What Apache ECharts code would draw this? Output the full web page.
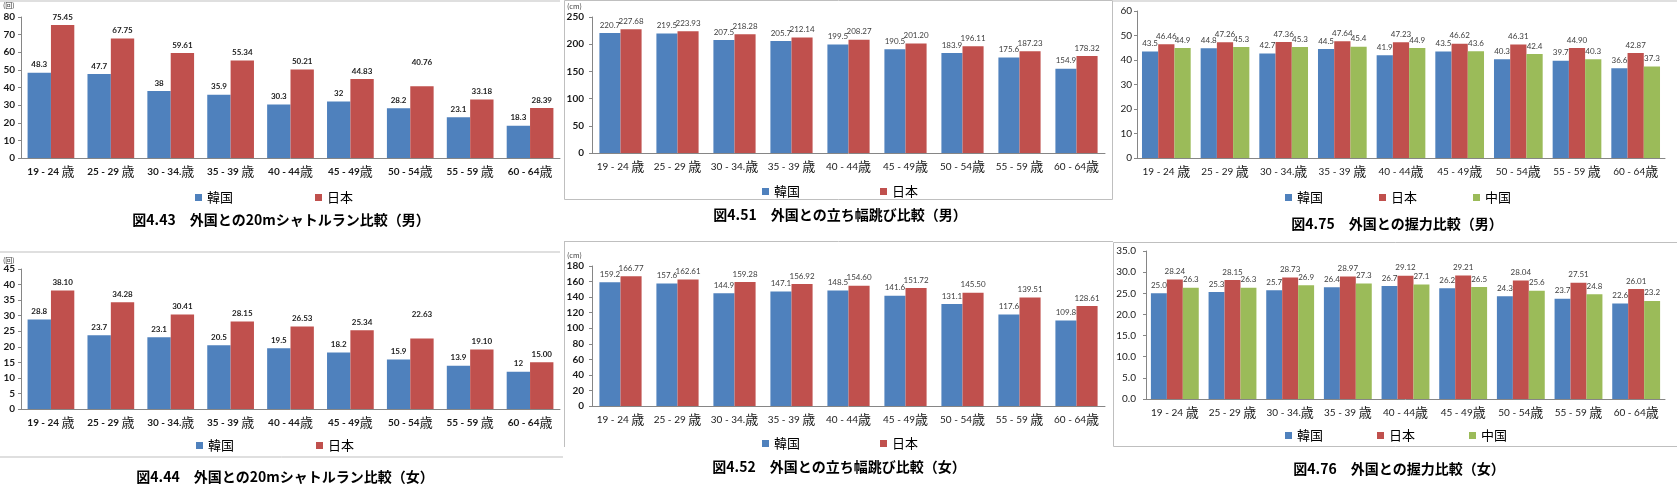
<!DOCTYPE html>
<html>
<head>
<meta charset="utf-8">
<title>外国との体力比較</title>
<script src="https://cdn.jsdelivr.net/npm/echarts@6/dist/echarts.min.js"></script>
<style>
  html, body { margin: 0; padding: 0; background: #fff; }
  #main { width: 1677px; height: 487px; }
</style>
</head>
<body>
<div id="main"></div>
<script>
// 年齢区分
var ageGroups = ['19 - 24 歳', '25 - 29 歳', '30 - 34.歳', '35 - 39 歳', '40 - 44歳', '45 - 49歳', '50 - 54歳', '55 - 59 歳', '60 - 64歳'];

// 20mシャトルラン (回)
var shuttleKorM = [48.3, 47.7, 38, 35.9, 30.3, 32, 28.2, 23.1, 18.3];
var shuttleJpnM = [75.45, 67.75, 59.61, 55.34, 50.21, 44.83, 40.76, 33.18, 28.39];
var shuttleKorF = [28.8, 23.7, 23.1, 20.5, 19.5, 18.2, 15.9, 13.9, 12];
var shuttleJpnF = [38.10, 34.28, 30.41, 28.15, 26.53, 25.34, 22.63, 19.10, 15.00];

// 立ち幅跳び (cm)
var jumpKorM = [220.7, 219.5, 207.5, 205.7, 199.5, 190.5, 183.9, 175.6, 154.9];
var jumpJpnM = [227.68, 223.93, 218.28, 212.14, 208.27, 201.20, 196.11, 187.23, 178.32];
var jumpKorF = [159.2, 157.6, 144.9, 147.1, 148.5, 141.6, 131.1, 117.6, 109.8];
var jumpJpnF = [166.77, 162.61, 159.28, 156.92, 154.60, 151.72, 145.50, 139.51, 128.61];

// 握力 (kg)
var gripKorM = [43.5, 44.8, 42.7, 44.5, 41.9, 43.5, 40.3, 39.7, 36.6];
var gripJpnM = [46.46, 47.26, 47.36, 47.64, 47.23, 46.62, 46.31, 44.90, 42.87];
var gripChnM = [44.9, 45.3, 45.3, 45.4, 44.9, 43.6, 42.4, 40.3, 37.3];
var gripKorF = [25.0, 25.3, 25.7, 26.4, 26.7, 26.2, 24.3, 23.7, 22.6];
var gripJpnF = [28.24, 28.15, 28.73, 28.97, 29.12, 29.21, 28.04, 27.51, 26.01];
var gripChnF = [26.3, 26.3, 26.9, 27.3, 27.1, 26.5, 25.6, 24.8, 23.2];

var FONT = '"Noto Sans CJK JP", sans-serif';
var NUMFONT = 'Lato, "Noto Sans CJK JP", sans-serif';
var BLUE = '#4F81BD', RED = '#C0504D', GREEN = '#9BBB59';
var AXIS = '#868686';

var panels = [
  { grid: {left: 21, top: 17, width: 539, height: 141}, max: 80, step: 10, gap: '22%', bold: true, ymargin: 6,
    series: [['韓国', shuttleKorM, BLUE, null], ['日本', shuttleJpnM, RED, 2]],
    lift: {series: 1, index: 6, px: 16},
    legend: {left: 190, top: 186, itemGap: 82},
    title: {text: '図4.43　外国との20mシャトルラン比較（男）', x: 281, y: 220},
    unit: {text: '(回)', x: 3, y: 5} },
  { grid: {left: 592, top: 17, width: 513, height: 136}, max: 250, step: 50, gap: '26%', bold: false, ymargin: 8,
    series: [['韓国', jumpKorM, BLUE, null], ['日本', jumpJpnM, RED, 2]],
    legend: {left: 757, top: 180, itemGap: 80},
    title: {text: '図4.51　外国との立ち幅跳び比較（男）', x: 840, y: 215},
    unit: {text: '(cm)', x: 567, y: 6} },
  { grid: {left: 1137, top: 11, width: 528, height: 147}, max: 60, step: 10, gap: '17%', bold: false, ymargin: 5,
    series: [['韓国', gripKorM, BLUE, null], ['日本', gripJpnM, RED, 2], ['中国', gripChnM, GREEN, null]],
    legend: {left: 1280, top: 186, itemGap: 56},
    title: {text: '図4.75　外国との握力比較（男）', x: 1397, y: 224} },
  { grid: {left: 21, top: 269, width: 539, height: 140}, max: 45, step: 5, gap: '22%', bold: true, ymargin: 6,
    series: [['韓国', shuttleKorF, BLUE, null], ['日本', shuttleJpnF, RED, 2]],
    lift: {series: 1, index: 6, px: 16},
    legend: {left: 191, top: 434, itemGap: 82},
    title: {text: '図4.44　外国との20mシャトルラン比較（女）', x: 285, y: 477},
    unit: {text: '(回)', x: 3, y: 260} },
  { grid: {left: 592, top: 266, width: 513, height: 140}, max: 180, step: 20, gap: '26%', bold: false, ymargin: 8,
    series: [['韓国', jumpKorF, BLUE, null], ['日本', jumpJpnF, RED, 2]],
    legend: {left: 757, top: 432, itemGap: 80},
    title: {text: '図4.52　外国との立ち幅跳び比較（女）', x: 839, y: 467},
    unit: {text: '(cm)', x: 567, y: 255} },
  { grid: {left: 1146, top: 251, width: 519, height: 148}, max: 35, step: 5, gap: '17%', bold: false, ymargin: 10, fixed: 1,
    series: [['韓国', gripKorF, BLUE, 1], ['日本', gripJpnF, RED, 2], ['中国', gripChnF, GREEN, 1]],
    legend: {left: 1280, top: 424, itemGap: 54},
    title: {text: '図4.76　外国との握力比較（女）', x: 1399, y: 469} }
];

var option = {
  backgroundColor: '#fff',
  animation: false,
  textStyle: {fontFamily: FONT},
  grid: [], xAxis: [], yAxis: [], series: [], legend: [], graphic: []
};

panels.forEach(function (p, i) {
  option.grid.push(p.grid);
  option.xAxis.push({
    type: 'category', gridIndex: i, data: ageGroups,
    axisLine: {lineStyle: {color: AXIS}},
    axisTick: {length: 4, lineStyle: {color: AXIS}},
    axisLabel: {
      interval: 0, margin: 7,
      formatter: function (v) { return '{n|' + v.slice(0, -1) + '}{k|歳}'; },
      rich: {
        n: {fontSize: 10, fontFamily: NUMFONT, color: '#1a1a1a', fontWeight: p.bold ? 'bold' : 'normal'},
        k: {fontSize: 13, fontFamily: FONT, color: '#1a1a1a'}
      }
    }
  });
  option.yAxis.push({
    type: 'value', gridIndex: i, min: 0, max: p.max, interval: p.step,
    axisLine: {show: true, lineStyle: {color: AXIS}},
    axisTick: {show: true, length: 3, lineStyle: {color: AXIS}},
    splitLine: {show: false},
    axisLabel: {
      margin: p.ymargin, fontSize: 10, fontFamily: NUMFONT, color: '#1a1a1a',
      fontWeight: (p.bold || i === 1 || i === 4) ? 'bold' : 'normal',
      formatter: function (v) { return p.fixed ? v.toFixed(p.fixed) : String(v); }
    }
  });
  p.series.forEach(function (s, si) {
    var digits = s[3];
    // Excel版で手動で持ち上げられたラベルだけ位置をずらす
    var data = s[1].map(function (v, k) {
      if (p.lift && p.lift.series === si && p.lift.index === k) {
        return {value: v, label: {distance: 4 + p.lift.px}};
      }
      return v;
    });
    option.series.push({
      type: 'bar', name: s[0], xAxisIndex: i, yAxisIndex: i,
      data: data, barGap: 0, barCategoryGap: p.gap,
      itemStyle: {color: s[2]},
      label: {
        show: true, position: 'top', distance: 4,
        fontSize: 8, fontFamily: NUMFONT,
        fontWeight: p.bold ? 'bold' : 'normal',
        color: p.bold ? '#222' : '#404040',
        formatter: function (d) { return digits == null ? String(d.value) : d.value.toFixed(digits); }
      }
    });
  });
  option.legend.push({
    data: p.series.map(function (s) { return s[0]; }),
    left: p.legend.left, top: p.legend.top, itemGap: p.legend.itemGap,
    icon: 'rect', itemWidth: 7, itemHeight: 7, selectedMode: false,
    textStyle: {fontSize: 13, fontFamily: FONT, color: '#000'}
  });
  option.graphic.push({
    type: 'text', x: p.title.x, y: p.title.y,
    style: {text: p.title.text, font: 'bold 14px "Noto Sans CJK JP"', textAlign: 'center', textVerticalAlign: 'middle', fill: '#000'}
  });
  if (p.unit) {
    option.graphic.push({
      type: 'text', x: p.unit.x, y: p.unit.y,
      style: {text: p.unit.text, font: '7px "Noto Sans CJK JP"', textAlign: 'left', textVerticalAlign: 'middle', fill: '#333'}
    });
  }
});

// 枠線
var frame = {stroke: '#bfbfbf', lineWidth: 1, fill: null};
option.graphic.push(
  {type: 'line', shape: {x1: 0, y1: 1, x2: 560, y2: 1}, style: frame},
  {type: 'rect', shape: {x: 564.5, y: 0.5, width: 548, height: 199}, style: frame},
  {type: 'line', shape: {x1: 1113, y1: 1, x2: 1677, y2: 1}, style: frame},
  {type: 'line', shape: {x1: 0, y1: 252, x2: 560, y2: 252}, style: frame},
  {type: 'line', shape: {x1: 0, y1: 457, x2: 563, y2: 457}, style: frame},
  {type: 'line', shape: {x1: 564.5, y1: 241, x2: 564.5, y2: 447}, style: frame},
  {type: 'line', shape: {x1: 564, y1: 241.5, x2: 1113, y2: 241.5}, style: frame},
  {type: 'rect', shape: {x: 1113.5, y: 242.5, width: 570, height: 204}, style: frame}
);

var chart = echarts.init(document.getElementById('main'));
chart.setOption(option);
</script>
</body>
</html>
